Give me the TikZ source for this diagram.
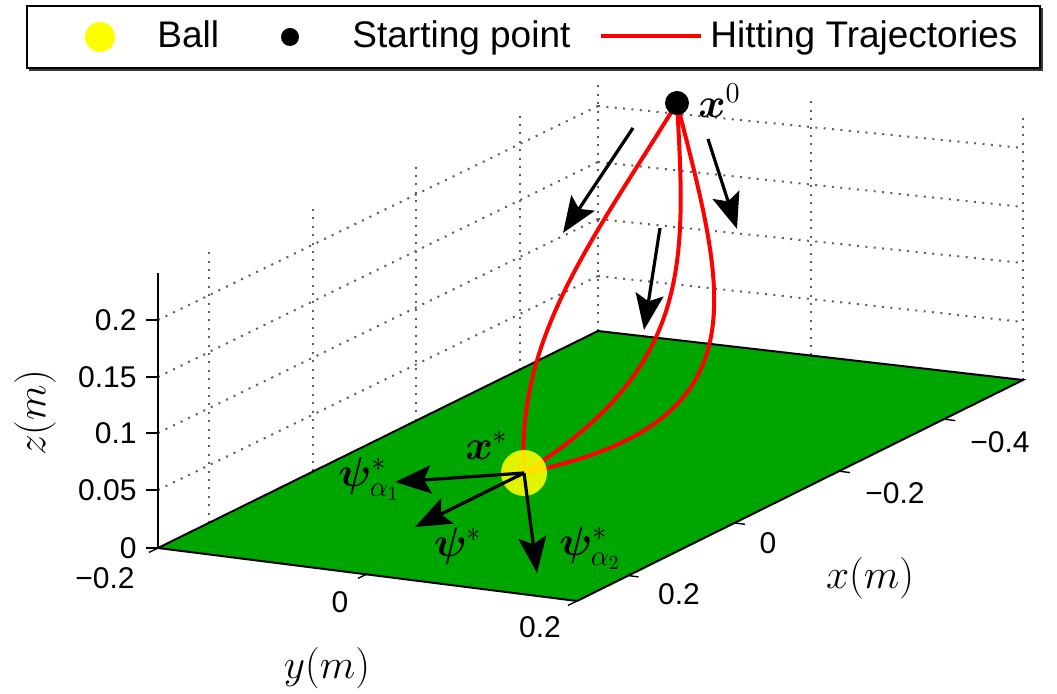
\documentclass[tikz,border=0pt]{standalone}
\usepackage{amsmath,amssymb,bm}
\usepackage{fontspec}
\setmainfont{Liberation Sans}
\usepackage{tikz}
\usetikzlibrary{arrows.meta,positioning}
\definecolor{PlaneGreen}{RGB}{0,166,0}
\definecolor{TrajRed}{RGB}{255,0,0}
\definecolor{BallYellow}{RGB}{255,255,0}
\definecolor{GridGray}{RGB}{95,95,95}

\begin{document}
\begin{tikzpicture}[x=0.5pt,y=-0.5pt,
  every node/.style={inner sep=0pt},
  grid/.style={GridGray,line width=1pt,dash pattern=on 1pt off 3.2pt},
  traj/.style={TrajRed,line width=2pt},
  vec/.style={-{Stealth[length=18pt,width=14pt,inset=3.5pt]},line width=1.6pt},
  tick/.style={line width=0.7pt},
  ticklab/.style={font=\fontsize{15}{18}\selectfont},
  axlab/.style={font=\fontsize{20}{24}\selectfont},
  mlab/.style={font=\fontsize{20}{24}\selectfont},
  legtext/.style={font=\fontsize{18.5}{22}\selectfont,anchor=base west}
]
\useasboundingbox (0,0) rectangle (1057,694);

% box corners (floor and top of the back walls)
\coordinate (L) at (158,548);
\coordinate (T) at (598,331);
\coordinate (R) at (1023,380);
\coordinate (B) at (577,601);
\coordinate (Lt) at (158,273);

% back walls
\foreach \ya/\yb in {320/106,377/162,433/219,490/276}
  \draw[grid] (158,\ya) -- (598,\yb);
\foreach \xa/\ya/\yb in {208.6/523/251,313.3/471.4/205.2,416.3/420.6/160.3,519.7/369.6/115.2}
  \draw[grid] (\xa,\ya) -- (\xa,\yb);
\foreach \ya/\yb in {106/148,162/207,219/263,276/322}
  \draw[grid] (598,\ya) -- (1023,\yb);
\foreach \xa/\ya/\yb in {598/331/81,810.5/355.5/99,1023/380/117}
  \draw[grid] (\xa,\ya) -- (\xa,\yb);

% table plane
\filldraw[fill=PlaneGreen,draw=black,line width=1pt] (L) -- (T) -- (R) -- (B) -- cycle;

% hitting trajectories
\coordinate (x0) at (677,103);
\coordinate (xs) at (524,473);
\draw[traj] (x0) .. controls (590,244) and (516,338) .. (xs);
\draw[traj] (x0) .. controls (686,263) and (692,368) .. (xs);
\draw[traj] (x0) .. controls (727,299) and (765,424) .. (xs);

\node[circle,fill=BallYellow,fill opacity=0.88,minimum size=23pt] (ball) at (xs) {};
\node[circle,fill=black,minimum size=12pt] (start) at (x0) {};

% directions
\coordinate (psiA) at (395,482);
\coordinate (psiS) at (415,527);
\coordinate (psiB) at (537,573);
\draw[vec] (xs) -- (psiA);
\draw[vec] (xs) -- (psiS);
\draw[vec] (xs) -- (psiB);

\coordinate (a1s) at (633,128);
\coordinate (a1e) at (563,233);
\coordinate (a2s) at (660,228);
\coordinate (a2e) at (644,330);
\coordinate (a3s) at (708,139);
\coordinate (a3e) at (737,229);
\draw[vec] (a1s) -- (a1e);
\draw[vec] (a2s) -- (a2e);
\draw[vec] (a3s) -- (a3e);

\node[mlab,anchor=west] (x0lab) at (698,101) {$\boldsymbol{x}^0$};
\node[mlab] (xslab) at (487,445) {$\boldsymbol{x}^*$};
\node[mlab] (psiAlab) at (369,479) {$\boldsymbol{\psi}^*_{\alpha_1}$};
\node[mlab] (psiSlab) at (458,546) {$\boldsymbol{\psi}^*$};
\node[mlab] (psiBlab) at (590,548) {$\boldsymbol{\psi}^*_{\alpha_2}$};

% z axis
\draw[line width=0.8pt] (L) -- (Lt);
\foreach \y/\t [count=\i] in {548/0,490/0.05,433/0.1,377/0.15,320/0.2} {
  \draw[tick] (158,\y) -- (146,\y);
  \node[ticklab,anchor=east] (zl\i) at (137,\y) {\t};
}
\node[axlab,rotate=90] (zlab) at (35,413) {$z(m)$};

% y axis
\foreach \x/\y in {158/548,367/574,577/601}
  \draw[tick] (\x,\y) -- ++(-9,4.4);
\node[ticklab] (yl1) at (105,578) {−0.2};
\node[ticklab] (yl2) at (340,602) {0};
\node[ticklab] (yl3) at (540,627) {0.2};
\node[axlab] (ylab) at (327,668) {$y(m)$};

% x axis
\foreach \x/\y in {628.5/575.6,735.1/523,840/471.3,945.3/419.3}
  \draw[tick] (\x,\y) -- ++(10,1.3);
\node[ticklab] (xl1) at (679,594) {0.2};
\node[ticklab] (xl2) at (768,543) {0};
\node[ticklab] (xl3) at (895,493) {−0.2};
\node[ticklab] (xl4) at (1000,442) {−0.4};
\node[axlab] (xlab) at (870,578) {$x(m)$};

% legend
\draw[GridGray!60!black,line width=1pt] (29,70) -- (1042,70) -- (1042,8);
\draw[line width=1.4pt,fill=white] (27,6) rectangle (1040,68);
\node[circle,fill=BallYellow,minimum size=15pt] (legball) at (100,37) {};
\node[legtext] (legballtxt) at (157,48) {Ball};
\node[circle,fill=black,minimum size=9pt] (legdot) at (290,37) {};
\node[legtext] (legdottxt) at (352,48) {Starting point};
\coordinate (legl) at (601,36);
\coordinate (legr) at (701,36);
\draw[traj] (legl) -- (legr);
\node[legtext] (legtrajtxt) at (710,48) {Hitting Trajectories};
\end{tikzpicture}
\end{document}
